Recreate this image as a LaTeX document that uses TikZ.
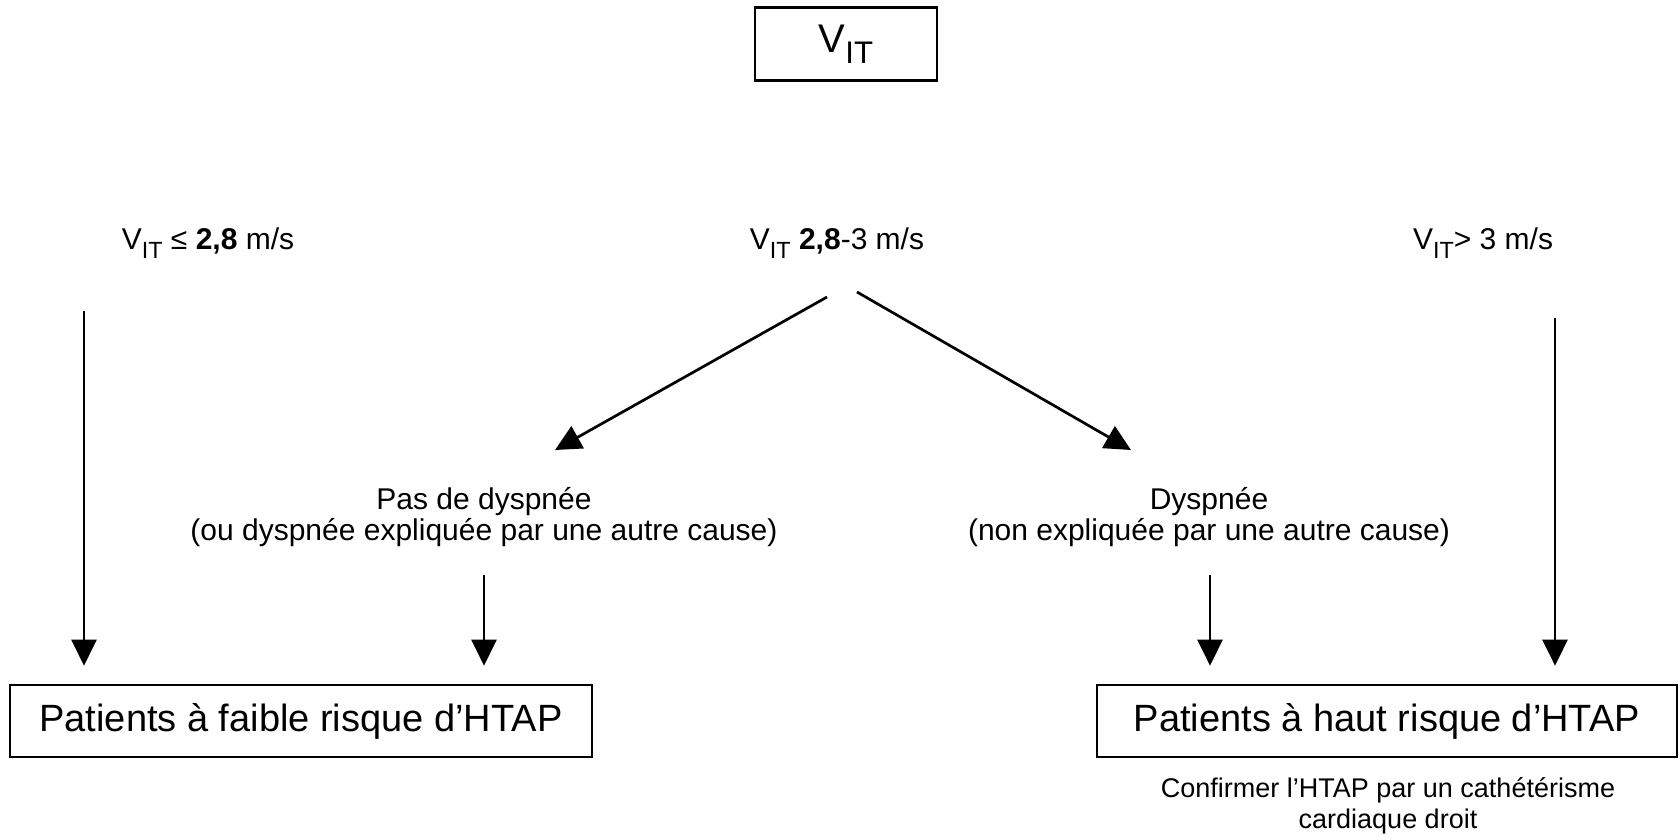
\documentclass[tikz,border=0pt]{standalone}
\usepackage{fontspec}
\setmainfont{Liberation Sans}
\usetikzlibrary{arrows.meta}
\newcommand{\Sub}[1]{\raisebox{-0.28em}{\scalebox{0.78}{#1}}}
\begin{document}
\begin{tikzpicture}[x=1pt,y=-1pt,
  line width=2.7pt,
  arr/.style={-{Triangle[length=26pt,width=25pt]}},
  frame/.style={draw, line width=2.7pt, inner sep=0pt, anchor=center},
  lab/.style={inner sep=0pt, font=\fontsize{30}{31}\selectfont, align=center},
  note/.style={inner sep=0pt, font=\fontsize{27}{31}\selectfont, align=center},
  big/.style={font=\fontsize{38}{40}\selectfont},
]
\useasboundingbox (0,0) rectangle (1680,839);
\fill[white] (0,0) rectangle (1680,839);

\node[frame, minimum width=182pt, minimum height=73pt, font=\fontsize{40}{42}\selectfont] (vit) at (846,44) {V\Sub{IT}};

\node[lab] (l1) at (208,243) {V\Sub{IT} ≤ \textbf{2,8} m/s};
\node[lab] (l2) at (837,243) {V\Sub{IT} \textbf{2,8}-3 m/s};
\node[lab] (l3) at (1483,243) {V\Sub{IT}> 3 m/s};

\node[lab] (nd) at (484,517) {Pas de dyspnée\\(ou dyspnée expliquée par une autre cause)};
\node[lab] (dy) at (1209,517) {Dyspnée\\(non expliquée par une autre cause)};

\node[frame, big, minimum width=582pt, minimum height=72pt] (low) at (301,721) {Patients à faible risque d’HTAP};
\node[frame, big, minimum width=580pt, minimum height=72pt] (high) at (1387,721) {Patients à haut risque d’HTAP};

\node[note] (conf) at (1388,806) {Confirmer l’HTAP par un cathétérisme\\cardiaque droit};

\coordinate (s1) at (84,311);
\coordinate (s2) at (827,297);
\coordinate (s3) at (857,292);
\coordinate (t2) at (555,450);
\coordinate (t3) at (1131,450);
\coordinate (s4) at (484,575);
\coordinate (s5) at (1210,575);
\coordinate (s6) at (1555,318);

\draw[arr, shorten >=18pt] (s1) -- (s1 |- low.north);
\draw[arr, shorten >=18pt] (s4) -- (s4 |- low.north);
\draw[arr, shorten >=18pt] (s5) -- (s5 |- high.north);
\draw[arr, shorten >=18pt] (s6) -- (s6 |- high.north);
\draw[arr] (s2) -- (t2);
\draw[arr] (s3) -- (t3);
\end{tikzpicture}
\end{document}
